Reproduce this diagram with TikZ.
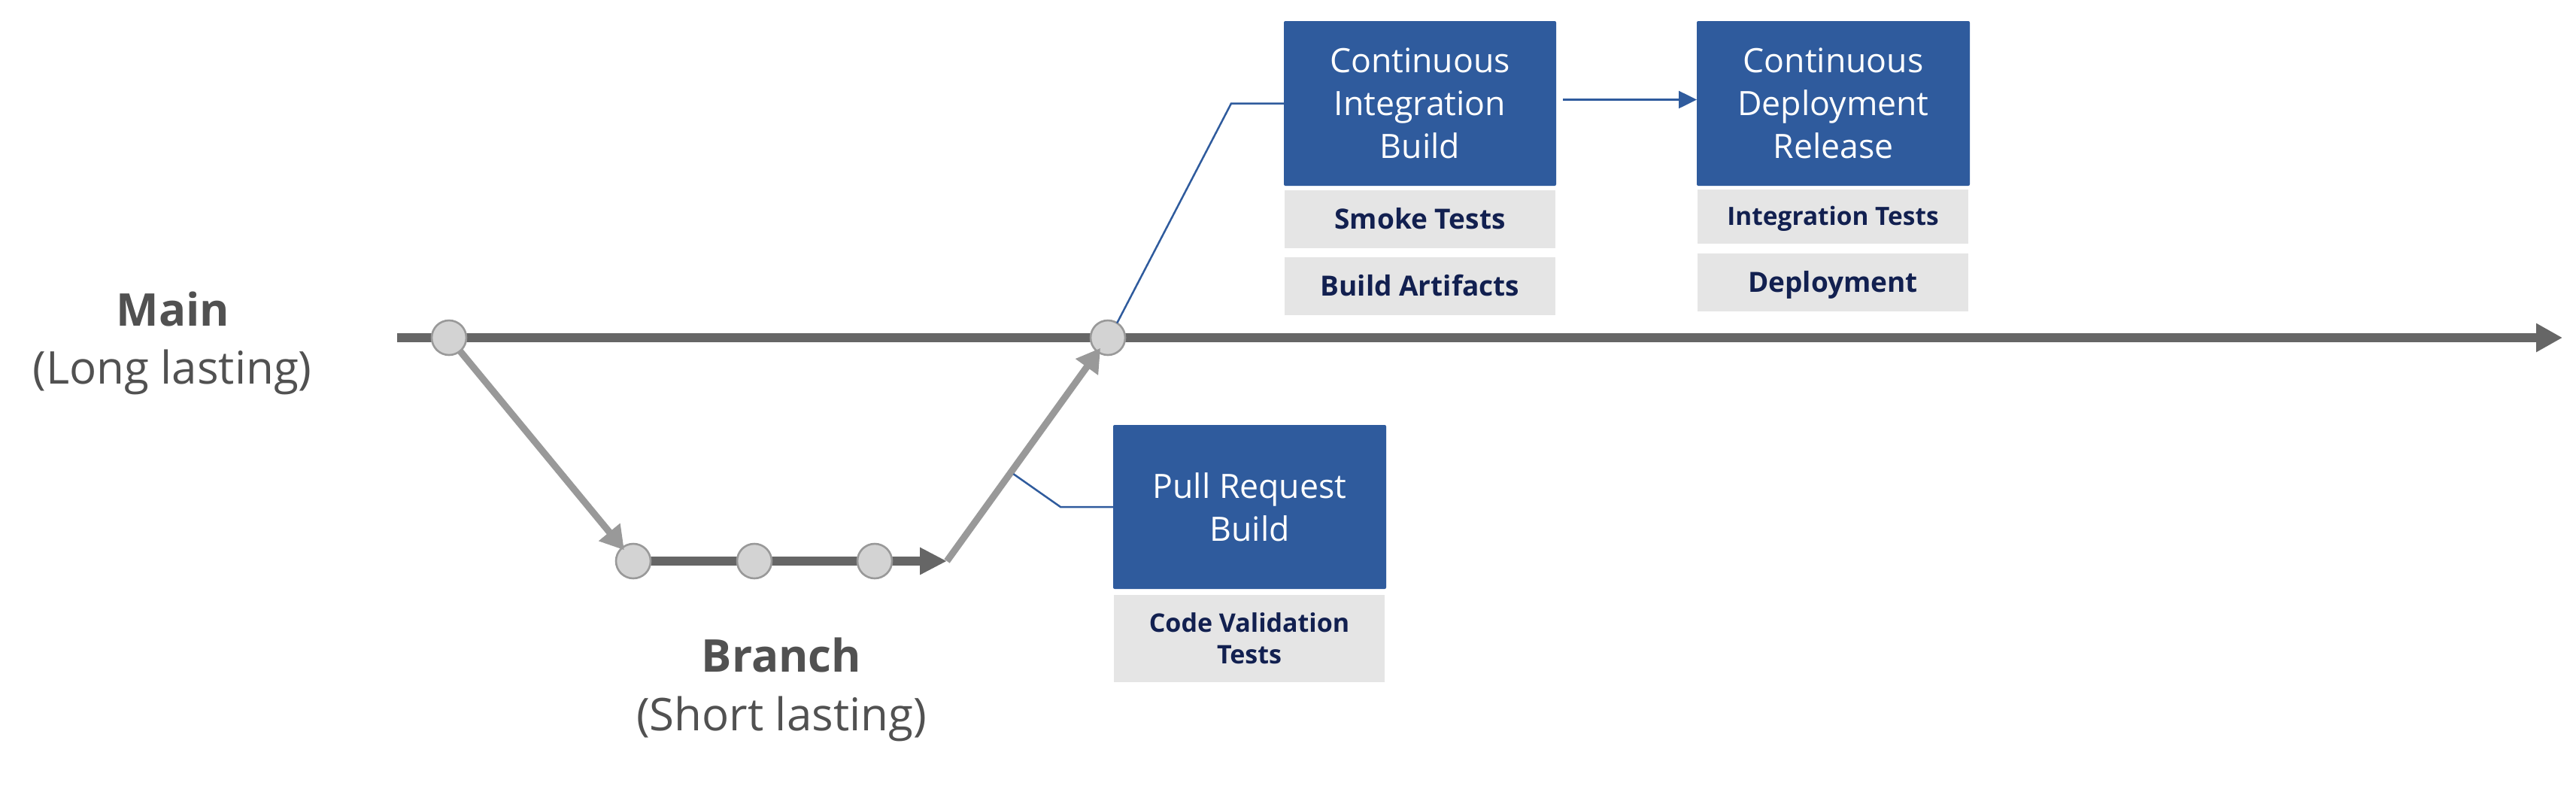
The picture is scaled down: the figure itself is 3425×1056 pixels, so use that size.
\documentclass[tikz,border=0pt]{standalone}
\usepackage{fontspec}
\setmainfont{Open Sans}
\usetikzlibrary{arrows.meta,calc}
\definecolor{boxblue}{HTML}{2F5B9D}
\definecolor{boxgray}{HTML}{E5E5E5}
\definecolor{navy}{HTML}{122050}
\definecolor{lblgray}{HTML}{515151}
\definecolor{maingray}{HTML}{666666}
\definecolor{diaggray}{HTML}{999999}
\definecolor{commitfill}{HTML}{D3D3D3}
\begin{document}
\begin{tikzpicture}[x=0.5pt,y=-0.5pt,
  mainline/.style={draw=maingray,line width=6pt,-{Triangle[length=17.5pt,width=18pt]}},
  branchline/.style={draw=maingray,line width=5.75pt,-{Triangle[length=18pt,width=17pt]}},
  diag/.style={draw=diaggray,line width=4.5pt,-{Triangle[length=15.5pt,width=17.5pt]}},
  commit/.style={circle,draw=diaggray,fill=commitfill,line width=1.3pt,minimum size=23pt,inner sep=0pt,outer sep=0pt},
  bluebox/.style={rectangle,fill=boxblue,rounded corners=1pt,inner sep=0pt,outer sep=0pt,text=white,align=center,
    font=\fontsize{22.3pt}{28.5pt}\selectfont},
  graybox/.style={rectangle,fill=boxgray,inner sep=0pt,outer sep=0pt,text=navy,align=center,
    minimum width=180pt,font=\bfseries\fontsize{18.5pt}{22pt}\selectfont},
  oneline/.style={text height=13.2pt,text depth=0pt},
  onelinesmall/.style={text height=11.9pt,text depth=0pt},
  blueline/.style={draw=boxblue,line width=1.25pt},
  lbl/.style={text=lblgray,anchor=base,inner sep=0pt,font=\fontsize{30pt}{36pt}\selectfont},
  lblb/.style={lbl,font=\bfseries\fontsize{30pt}{36pt}\selectfont}
]
\useasboundingbox (0,0) rectangle (3425,1056);
\fill[white] (0,0) rectangle (3425,1056);

% positions
\coordinate (mstart) at (528,449);
\coordinate (mend) at (3407,449);
\coordinate (pc1) at (597,449);
\coordinate (pc2) at (1473,449);
\coordinate (pb1) at (842,746);
\coordinate (pb2) at (1003,746);
\coordinate (pb3) at (1163,746);
\coordinate (bend) at (1259,746);

% lines
\draw[mainline] (mstart) -- (mend);
\draw[branchline] (pb1) -- (bend);

% commits
\node[commit] (c1) at (pc1) {};
\node[commit] (c2) at (pc2) {};
\node[commit] (b1) at (pb1) {};
\node[commit] (b2) at (pb2) {};
\node[commit] (b3) at (pb3) {};

% diagonals
\draw[diag,shorten >=-2pt] (c1) -- (b1);
\draw[diag,shorten >=-3pt] (bend) -- (c2);

% labels
\node[lblb] (mainlbl) at (230,433) {Main};
\node[lbl] (mainsub) at (229,510) {(Long lasting)};
\node[lblb] (branchlbl) at (1039,893) {Branch};
\node[lbl] (branchsub) at (1039,971) {(Short lasting)};

% boxes
\node[bluebox,minimum width=181pt,minimum height=109.5pt] (ci) at (1888,137.5) {Continuous\\Integration\\Build};
\node[bluebox,minimum width=181.5pt,minimum height=109.5pt] (cd) at (2437.5,137.5) {Continuous\\Deployment\\Release};
\node[bluebox,minimum width=181.5pt,minimum height=109pt] (pr) at (1661.5,674) {Pull Request\\Build};

\node[graybox,oneline,minimum height=38.5pt] (smoke) at (1888,291.5) {Smoke Tests};
\node[graybox,oneline,minimum height=38.5pt] (artifacts) at (1888,380.5) {Build Artifacts};
\node[graybox,onelinesmall,minimum height=36pt,font=\bfseries\fontsize{16.7pt}{20pt}\selectfont] (itests) at (2437,288) {Integration Tests};
\node[graybox,oneline,minimum height=38.5pt] (deploy) at (2437,375.5) {Deployment};
\node[graybox,minimum height=58pt,font=\bfseries\fontsize{17pt}{21pt}\selectfont] (codeval) at (1661,849) {Code Validation\\Tests};

% blue connectors
\coordinate (ciknee) at (1637,137.5);
\draw[blueline] (c2.58) -- (ciknee) -- (ci.west);
\coordinate (prtap) at ($(bend)!0.39!(c2)+(5,0)$);
\coordinate (prknee) at (1410,674);
\draw[blueline] (prtap) -- (prknee) -- (pr.west);
\draw[blueline,-{Triangle[length=12pt,width=11.5pt]}] ([xshift=4.5pt,yshift=2.5pt]ci.east) -- ([yshift=2.5pt]cd.west);
\end{tikzpicture}
\end{document}
